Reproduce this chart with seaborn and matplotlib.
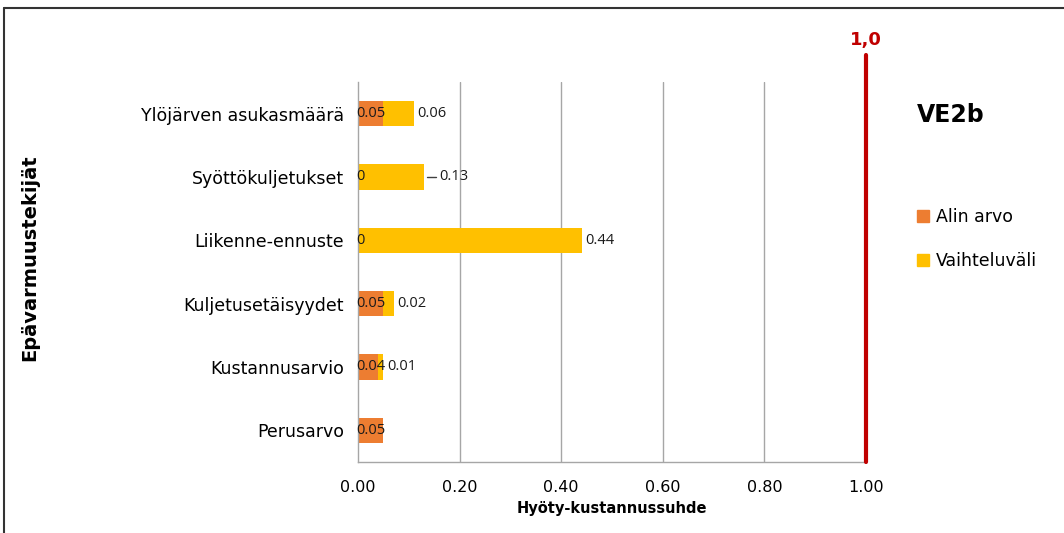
import matplotlib
matplotlib.use('Agg')
import matplotlib.pyplot as plt
import seaborn as sns
import pandas as pd
import numpy as np
from matplotlib.lines import Line2D
from matplotlib.patches import Patch

categories = ['Ylöjärven asukasmäärä', 'Syöttökuljetukset', 'Liikenne-ennuste',
              'Kuljetusetäisyydet', 'Kustannusarvio', 'Perusarvo']
alin_arvo = [0.05, 0.0, 0.0, 0.05, 0.04, 0.05]
vaihteluvali = [0.06, 0.13, 0.44, 0.02, 0.01, 0.0]
alin_labels = ['0.05', '0', '0', '0.05', '0.04', '0.05']
range_labels = ['0.06', '0.13', '0.44', '0.02', '0.01', '']
threshold = 1.0

orange = '#ED7D31'
yellow = '#FFC000'
red = '#C00000'
grid_col = '#A6A6A6'

df = pd.DataFrame({'cat': categories, 'low': alin_arvo, 'rng': vaihteluvali})
df['total'] = df['low'] + df['rng']

sns.set_style('white')
plt.rcParams['font.family'] = ['DejaVu Sans']
plt.rcParams['text.color'] = 'black'
plt.rcParams['xtick.color'] = 'black'
plt.rcParams['ytick.color'] = 'black'

fig = plt.figure(figsize=(10.64, 5.33), dpi=100)
ax = fig.add_axes([358/1064, 71/533, 508/1064, 380/533])

sns.barplot(data=df, y='cat', x='total', color=yellow, orient='h', width=0.4,
            saturation=1, ax=ax, order=categories, linewidth=0)
sns.barplot(data=df, y='cat', x='low', color=orange, orient='h', width=0.4,
            saturation=1, ax=ax, order=categories, linewidth=0)

ax.set_xlim(0, 1.0)
ax.set_ylim(5.5, -0.5)
ax.set_xticks([0, 0.2, 0.4, 0.6, 0.8, 1.0])
ax.set_xticklabels(['%.2f' % v for v in [0, 0.2, 0.4, 0.6, 0.8, 1.0]], fontsize=11.5)
for v in [0.2, 0.4, 0.6, 0.8]:
    ax.axvline(v, color=grid_col, lw=1, zorder=0)

for s in ['top', 'right']:
    ax.spines[s].set_visible(False)
for s in ['left', 'bottom']:
    ax.spines[s].set_color(grid_col)
    ax.spines[s].set_linewidth(1)

ax.tick_params(axis='x', length=5, color=grid_col, labelcolor='black', direction='out', pad=8)
ax.tick_params(axis='y', length=0, pad=10, labelsize=12.5, labelcolor='black')
ax.set_yticks(np.arange(-0.5, 6.0, 1.0), minor=True)
ax.tick_params(axis='y', which='minor', length=7, color=grid_col, direction='out')

ax.set_xlabel('Hyöty-kustannussuhde', fontsize=10.5, fontweight='bold', labelpad=4,
              color='black')
ax.set_ylabel('')

# data labels
for i, (lo, rg) in enumerate(zip(alin_arvo, vaihteluvali)):
    ax.text(-0.004, i, alin_labels[i], ha='left', va='center', fontsize=10.5,
            color='#1a1a1a', family='Open Sans')
    if range_labels[i]:
        end = lo + rg
        if range_labels[i] == '0.13':
            ax.plot([end + 0.005, end + 0.024], [i, i], color='#404040', lw=1)
            ax.text(end + 0.03, i, range_labels[i], ha='left', va='center',
                    fontsize=10.5, color='#1a1a1a', family='Open Sans')
        else:
            ax.text(end + 0.007, i, range_labels[i], ha='left', va='center',
                    fontsize=10.5, color='#1a1a1a', family='Open Sans')

# threshold line
ax.plot([threshold, threshold], [5.5, -0.92], color=red, lw=3, clip_on=False, zorder=5)
ax.text(threshold, -1.17, '1,0', color=red, fontsize=13, fontweight='bold',
        ha='center', va='center', clip_on=False)

fig.text(30/1064, 1 - 258/533, 'Epävarmuustekijät', rotation=90, fontsize=14,
         fontweight='bold', ha='center', va='center')

fig.text(951/1064, 1 - 115/533, 'VE2b', fontsize=17, fontweight='bold',
         ha='center', va='center')

handles = [Patch(color=orange, label='Alin arvo'), Patch(color=yellow, label='Vaihteluväli')]
fig.legend(handles=handles, loc='center left', bbox_to_anchor=(901/1064, 1 - 239/533),
           frameon=False, fontsize=12.5, handlelength=0.7, handleheight=0.7,
           handletextpad=0.4, labelspacing=1.5)

# outer frame lines
fig.add_artist(Line2D([4/1064, 1.0], [1 - 8/533, 1 - 8/533], color='#333333', lw=1.5,
                      transform=fig.transFigure))
fig.add_artist(Line2D([4/1064, 4/1064], [0, 1 - 8/533], color='#333333', lw=1.5,
                      transform=fig.transFigure))

fig.savefig('out.png', dpi=100)
